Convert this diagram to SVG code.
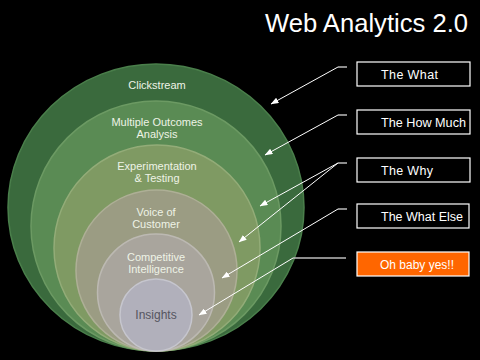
<svg xmlns="http://www.w3.org/2000/svg" width="480" height="360" viewBox="0 0 480 360">
  <defs>
    <marker id="arr" markerWidth="8" markerHeight="6" refX="7.5" refY="3" orient="auto" markerUnits="userSpaceOnUse">
      <path d="M0,0 L8,3 L0,6 z" fill="#ffffff"/>
    </marker>
  </defs>
  <style>
    .lbl { font-family: "Liberation Sans", Arial, sans-serif; font-size: 11px; fill: #eef3e6; text-anchor: middle; }
    .btxt { font-family: "Liberation Sans", Arial, sans-serif; font-size: 12.5px; fill: #ffffff; }
    .box { fill: #000000; stroke: #ffffff; stroke-width: 1.2; }
    .conn { stroke: #ffffff; stroke-width: 1; fill: none; marker-end: url(#arr); }
    .stub { stroke: #8c8c8c; stroke-width: 2; }
  </style>
  <rect x="0" y="0" width="480" height="360" fill="#000000"/>
  <text x="468" y="32" font-family="'Liberation Sans', Arial, sans-serif" font-size="26" fill="#ffffff" text-anchor="end" textLength="203" lengthAdjust="spacingAndGlyphs">Web Analytics 2.0</text>

  <g id="clickstream">
    <ellipse cx="156" cy="207.5" rx="148" ry="143.5" fill="#3a6a3d" stroke="#4a7f4b" stroke-width="1.5"/>
    <text class="lbl" x="157" y="89">Clickstream</text>
  </g>
  <g id="multiple-outcomes">
    <circle cx="156" cy="226" r="125" fill="#5a8b54" stroke="#6c9a63" stroke-width="1.5"/>
    <text class="lbl" x="157" y="126">Multiple Outcomes</text>
    <text class="lbl" x="157" y="138">Analysis</text>
  </g>
  <g id="experimentation">
    <circle cx="157" cy="248" r="103" fill="#7f9a63" stroke="#93ac78" stroke-width="1.5"/>
    <text class="lbl" x="157" y="170">Experimentation</text>
    <text class="lbl" x="157" y="182">&amp; Testing</text>
  </g>
  <g id="voice-of-customer">
    <circle cx="156.5" cy="270.5" r="80.5" fill="#9b9c83" stroke="#aeaf96" stroke-width="1.5"/>
    <text class="lbl" x="156" y="216">Voice of</text>
    <text class="lbl" x="156" y="228">Customer</text>
  </g>
  <g id="competitive-intelligence">
    <circle cx="156" cy="292.5" r="58.5" fill="#a9a59d" stroke="#bcb9b2" stroke-width="1.5"/>
    <text class="lbl" x="156" y="261">Competitive</text>
    <text class="lbl" x="156" y="273">Intelligence</text>
  </g>
  <g id="insights">
    <circle cx="156" cy="315" r="36" fill="#b1b0bb" stroke="#c6c6ce" stroke-width="1.5"/>
    <text x="156" y="319" font-family="'Liberation Sans', Arial, sans-serif" font-size="12" fill="#55555f" text-anchor="middle">Insights</text>
  </g>

  <g id="box-what">
    <rect class="box" x="357" y="62" width="113" height="24"/>
    <text class="btxt" x="381" y="79" textLength="57">The What</text>
  </g>
  <g id="box-how-much">
    <rect class="box" x="357" y="110" width="113" height="24"/>
    <text class="btxt" x="381" y="127" textLength="85" lengthAdjust="spacingAndGlyphs">The How Much</text>
  </g>
  <g id="box-why">
    <rect class="box" x="357" y="158" width="113" height="24"/>
    <text class="btxt" x="381" y="175" textLength="52">The Why</text>
  </g>
  <g id="box-what-else">
    <rect class="box" x="357" y="204" width="112" height="24"/>
    <text class="btxt" x="381" y="221" textLength="82" lengthAdjust="spacingAndGlyphs">The What Else</text>
  </g>
  <g id="box-oh-baby">
    <rect x="357" y="252" width="112" height="24" fill="#ff6600" stroke="#ffffff" stroke-width="1.2"/>
    <text class="btxt" x="380" y="269" textLength="74" lengthAdjust="spacingAndGlyphs">Oh baby yes!!</text>
  </g>

  <g id="connectors">
    <line class="stub" x1="338" y1="67" x2="347" y2="67"/>
    <line class="conn" x1="338" y1="67" x2="271" y2="104"/>
    <line class="stub" x1="338" y1="115" x2="347" y2="115"/>
    <line class="conn" x1="338" y1="115" x2="265" y2="155"/>
    <line class="stub" x1="338" y1="163" x2="347" y2="163"/>
    <line class="conn" x1="338" y1="163" x2="260" y2="206"/>
    <line class="conn" x1="338" y1="163" x2="239" y2="242"/>
    <line class="stub" x1="338" y1="209" x2="347" y2="209"/>
    <line class="conn" x1="338" y1="209" x2="222" y2="278"/>
    <line x1="293" y1="258" x2="346" y2="258" stroke="#bdbdbd" stroke-width="1.5"/>
    <line class="conn" x1="293" y1="258" x2="199" y2="315"/>
  </g>
</svg>
